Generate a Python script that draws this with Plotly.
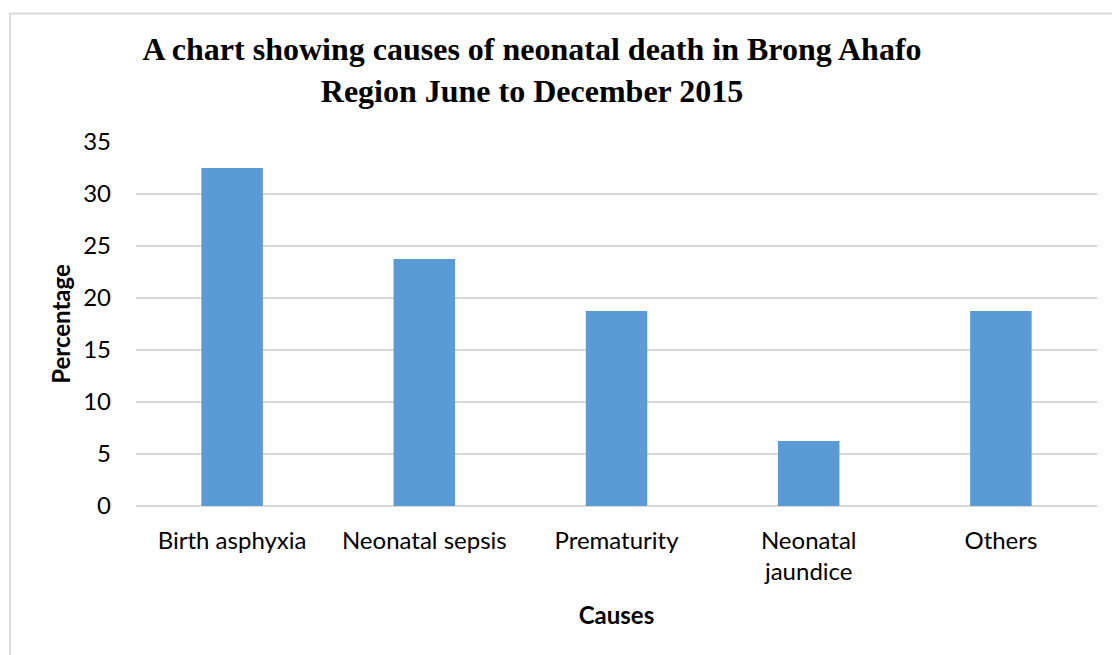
import plotly.graph_objects as go

causes = ["Birth asphyxia", "Neonatal sepsis", "Prematurity", "Neonatal<br>jaundice", "Others"]
percentages = [32.5, 23.75, 18.75, 6.25, 18.75]
y_ticks = [0, 5, 10, 15, 20, 25, 30, 35]

W, H = 1112, 655
L, R, T, B = 136, 15, 142, 149
pw = W - L - R
ph = H - T - B

fig = go.Figure(
    go.Bar(
        x=causes,
        y=percentages,
        marker=dict(color="#5B9BD5", line=dict(width=0)),
        width=0.32,
    )
)

fig.update_layout(
    width=W,
    height=H,
    margin=dict(l=L, r=R, t=T, b=B, autoexpand=False),
    paper_bgcolor="white",
    plot_bgcolor="white",
    showlegend=False,
    font=dict(family="Lato, 'Open Sans', sans-serif", size=24, color="black"),
    title=dict(
        text="A chart showing causes of neonatal death in Brong Ahafo<br>Region June to December 2015",
        font=dict(family="'Liberation Serif', 'Times New Roman', serif", size=32, color="black", weight="bold"),
        x=532 / W,
        xanchor="center",
        xref="container",
        y=1 - 60 / H,
        yanchor="top",
        yref="container",
    ),
    xaxis=dict(
        showgrid=False,
        showline=False,
        zeroline=False,
        ticks="",
        ticklabelstandoff=18,
        tickfont=dict(size=24),
        title=dict(text="<b>Causes</b>", font=dict(size=24), standoff=22),
    ),
    yaxis=dict(
        range=[0, 35],
        tickvals=y_ticks,
        showgrid=True,
        gridcolor="#D9D9D9",
        gridwidth=1.5,
        zeroline=True,
        zerolinecolor="#D9D9D9",
        zerolinewidth=2,
        showline=False,
        ticks="",
        ticklabelstandoff=24,
        tickfont=dict(size=24),
        title=dict(text="<b>Percentage</b>", font=dict(size=24), standoff=5),
    ),
    shapes=[
        dict(
            type="rect",
            xref="paper",
            yref="paper",
            x0=(10 - L) / pw,
            x1=(W + 20 - L) / pw,
            y0=-(H + 20 - T - ph) / ph,
            y1=(H - 13.5 - B) / ph,
            line=dict(color="#D9D9D9", width=2),
            fillcolor="rgba(0,0,0,0)",
            layer="below",
        )
    ],
)

fig.write_html(
    "out.html",
    config={"displayModeBar": False},
    post_script="document.body.style.margin='0';",
)
